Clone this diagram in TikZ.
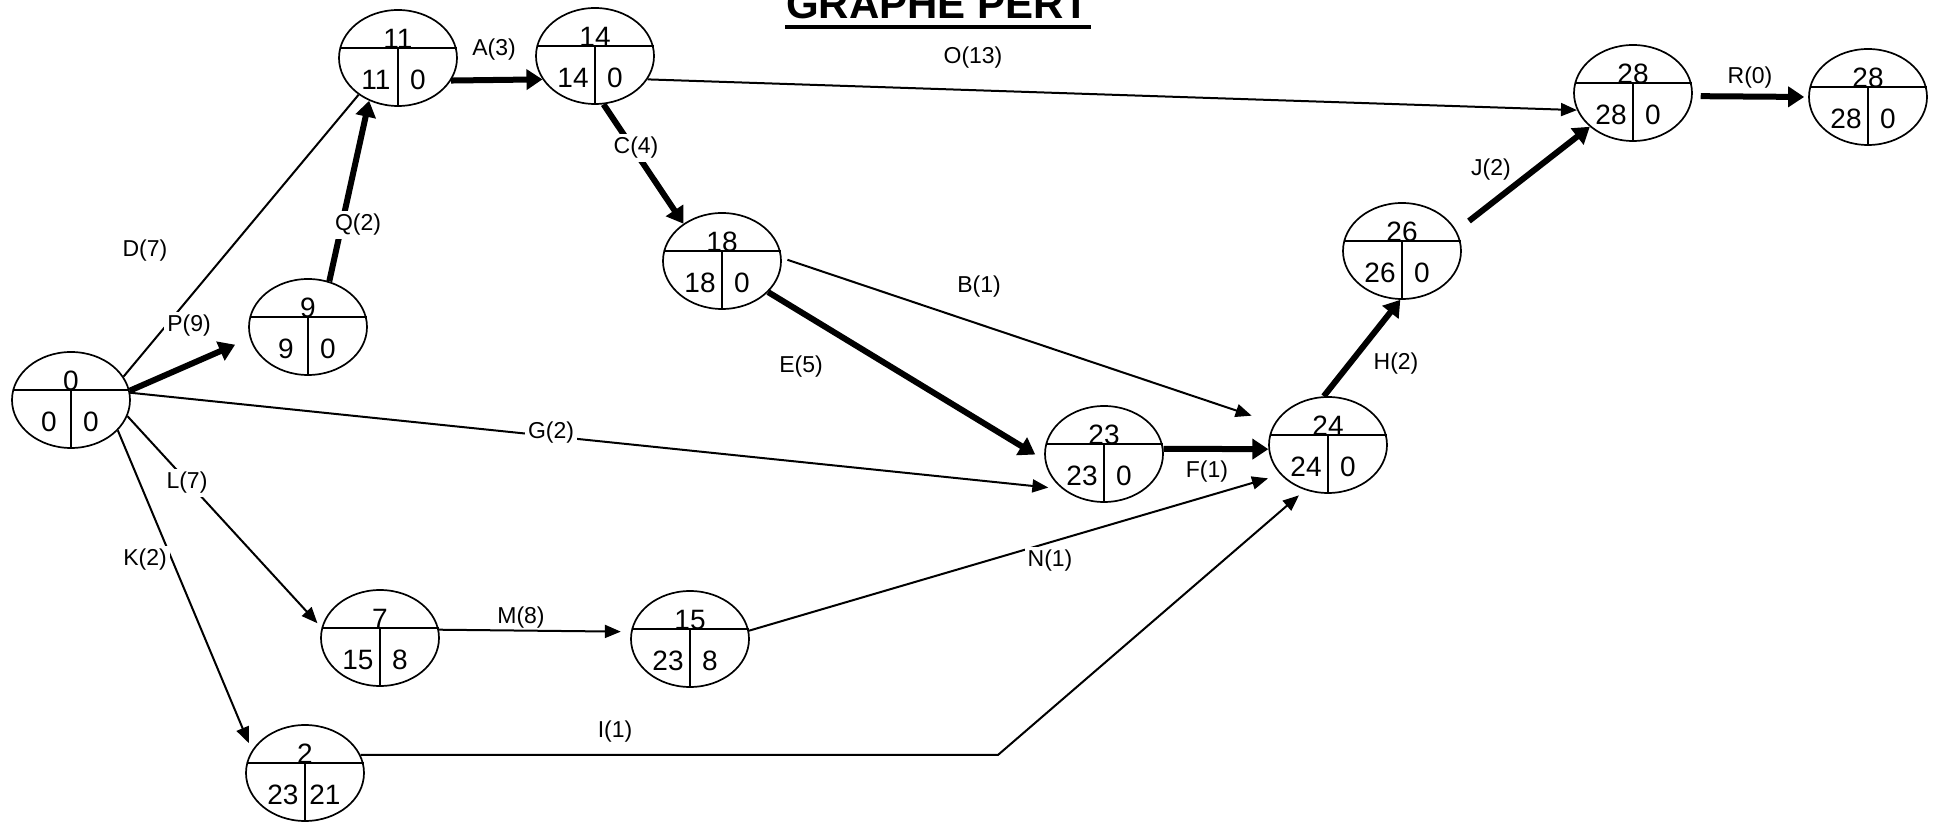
\documentclass[tikz,border=0pt]{standalone}
\usepackage{fontspec}
\setmainfont{Liberation Sans}
\usetikzlibrary{shapes.geometric,arrows.meta}

% event: name, position, date, latest, slack
\newcommand{\evt}[5]{%
  \node[evt] (#1) at (#2) {};
  \draw (#1.170) -- (#1.10);
  \draw (#1.center |- #1.10) -- (#1.south);
  \node[num, anchor=base] (#1t) at ([yshift=-0.5pt]#1.center |- #1.10) {#3};
  \node[num] (#1l) at ([shift={(-11pt,-11pt)}]#1.center) {#4};
  \node[num] (#1r) at ([shift={(10pt,-11pt)}]#1.center) {#5};
}

\begin{document}
\begin{tikzpicture}[
            x=0.5pt, y=-0.5pt,
            line width=0.85pt,
            evt/.style={ellipse, draw, minimum width=59pt, minimum height=48pt, inner sep=0pt},
            num/.style={inner sep=0pt, font=\fontsize{14}{16}\selectfont},
            lbl/.style={inner sep=1.5pt, font=\fontsize{11.5}{13}\selectfont},
            onl/.style={lbl, fill=white},
            act/.style={-{Triangle[length=8pt,width=6.5pt]}, line width=1pt},
            crit/.style={-{Triangle[length=8pt,width=10pt]}, line width=3pt},
            plain/.style={line width=1pt}
        ]
        \useasboundingbox (0,0) rectangle (1933,822);

        % Title
        \node[inner sep=0pt, anchor=base, font=\fontsize{21}{24}\selectfont\bfseries] (ttl) at (938,19) {GRAPHE PERT};
        \draw[line width=2pt] ([yshift=-4pt]ttl.base west) -- ([yshift=-4pt]ttl.base east);

        % Events
        \evt{N0}{71,400}{0}{0}{0}
        \evt{N9}{308,327}{9}{9}{0}
        \evt{N11}{398,58}{11}{11}{0}
        \evt{N14}{595,56}{14}{14}{0}
        \evt{N18}{722,261}{18}{18}{0}
        \evt{N23}{1104,454}{23}{23}{0}
        \evt{N24}{1328,445}{24}{24}{0}
        \evt{N26}{1402,251}{26}{26}{0}
        \evt{N28a}{1633,93}{28}{28}{0}
        \evt{N28b}{1868,97}{28}{28}{0}
        \evt{N7}{380,638}{7}{15}{8}
        \evt{N15}{690,639}{15}{23}{8}
        \evt{N2}{305,773}{2}{23}{21}

        \coordinate (Ik) at (998,754);
        \coordinate (J0) at (1469,221);

        % Tasks
        \draw[plain] (N0.24) -- (N11.223);
        \draw[crit, shorten >=8pt] (N0.9) -- (N9.191);
        \draw[crit] (N9.65) -- (N11.-124);
        \draw[crit] (N11.-23) -- (N14.204);
        \draw[act] (N14.-24) -- (N28a.197);
        \draw[crit] (N14.-80) -- (N18.136);
        \draw[act, shorten >=7pt] (N0.7) -- (N23.220);
        \draw[act, shorten >=3pt] (N0.-16) -- (N7.170);
        \draw[act, shorten >=4pt] (N0.-33) -- (N2.157);
        \draw[act, shorten >=5pt] (N7.8) -- (N15.173);
        \draw[act, shorten >=6.5pt] (N15.8) -- (N24.212);
        \draw[act, shorten >=4pt] (N2.18) -- (N2.18 -| Ik) -- (N24.243);
        \draw[crit, shorten >=5.5pt] (N18.-34) -- (N23.186);
        \draw[act, shorten <=3pt, shorten >=12pt] (N18.3) -- (N24.158);
        \draw[crit] (N23.5) -- (N24.184);
        \draw[crit] (N24.95) -- (N26.268);
        \draw[crit] (J0) -- (N28a.218);
        \draw[crit, shorten <=4pt, shorten >=2pt] (N28a.-3) -- (N28b.180);

        % Task labels
        \node[lbl] (lA) at (494,50)   {A(3)};
        \node[lbl] (lO) at (973,58)   {O(13)};
        \node[onl] (lC) at (636,148)  {C(4)};
        \node[onl] (lQ) at (358,225)  {Q(2)};
        \node[lbl] (lD) at (145,251)  {D(7)};
        \node[onl] (lP) at (189,326)  {P(9)};
        \node[onl] (lG) at (551,433)  {G(2)};
        \node[onl] (lL) at (187,483)  {L(7)};
        \node[onl] (lK) at (145,560)  {K(2)};
        \node[lbl] (lM) at (521,618)  {M(8)};
        \node[onl] (lN) at (1050,561) {N(1)};
        \node[lbl] (lI) at (615,732)  {I(1)};
        \node[lbl] (lE) at (801,367)  {E(5)};
        \node[lbl] (lB) at (979,287)  {B(1)};
        \node[lbl] (lF) at (1207,472) {F(1)};
        \node[lbl] (lH) at (1396,364) {H(2)};
        \node[lbl] (lJ) at (1491,170) {J(2)};
        \node[lbl] (lR) at (1750,78)  {R(0)};
    \end{tikzpicture}
\end{document}
